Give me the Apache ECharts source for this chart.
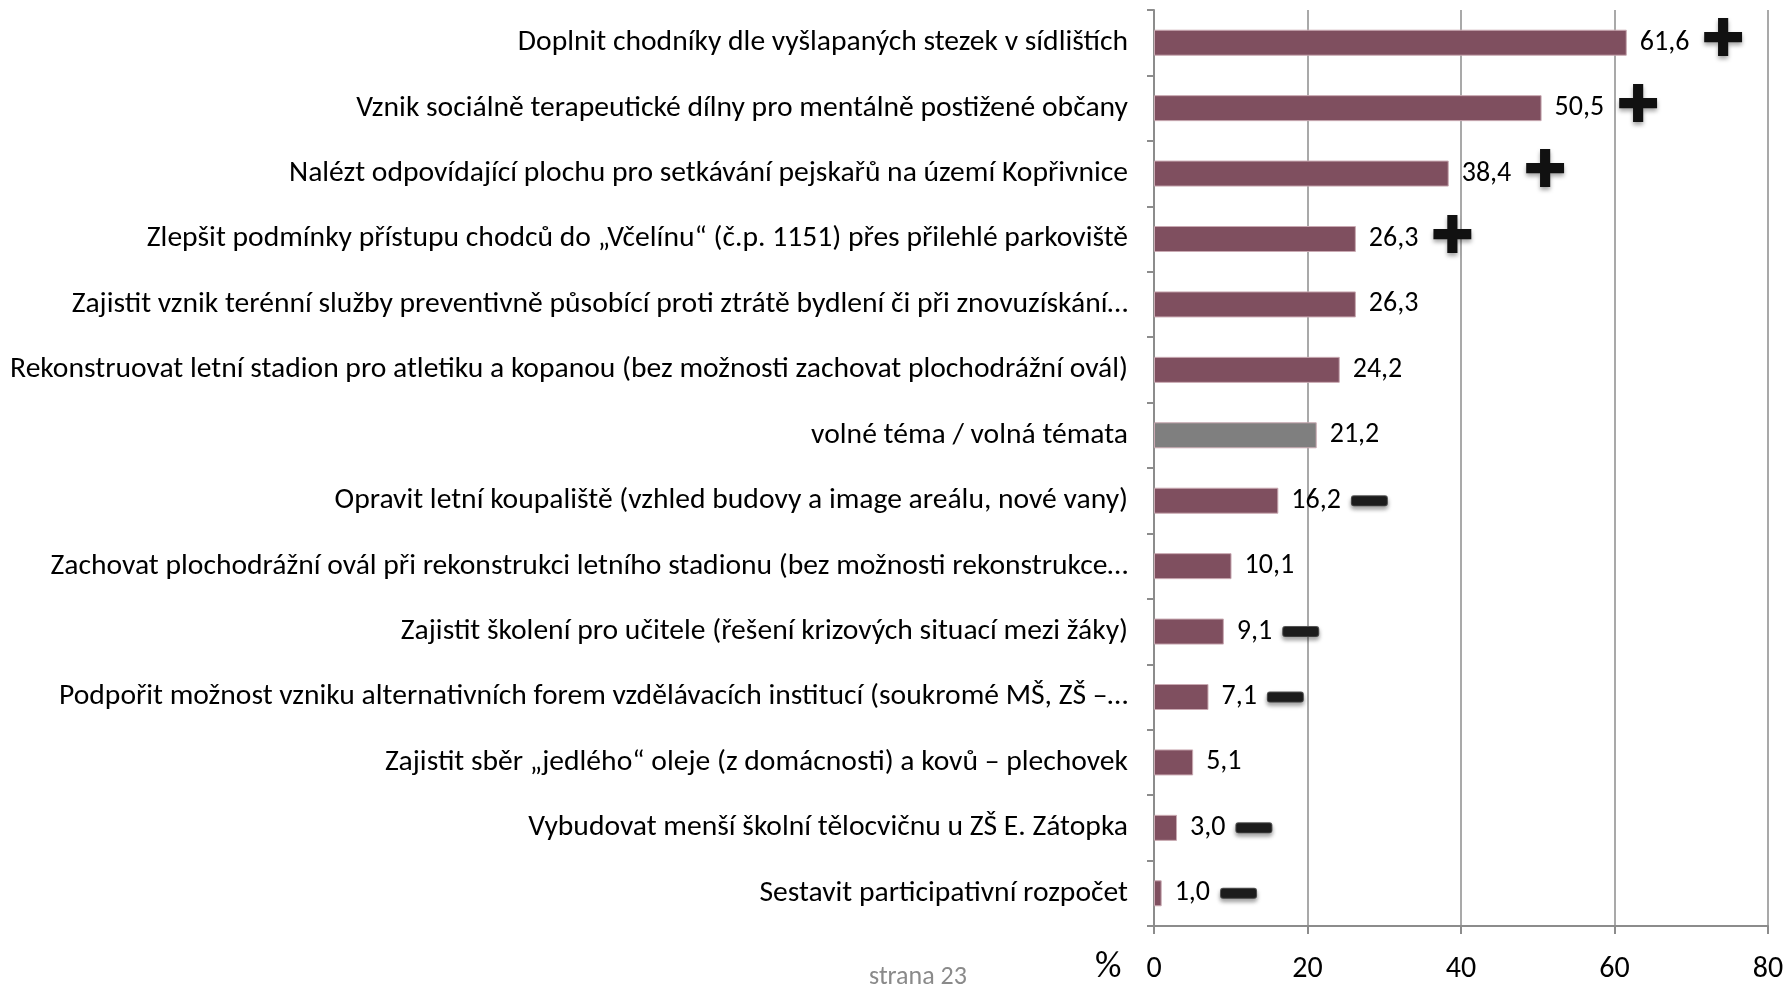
<!DOCTYPE html>
<html>
<head>
<meta charset="utf-8">
<script src="https://cdn.jsdelivr.net/npm/echarts@6/dist/echarts.min.js"></script>
<style>
  html, body { margin: 0; padding: 0; background: #fff; }
  #chart { width: 1789px; height: 987px; }
</style>
</head>
<body>
<div id="chart"></div>
<script>
// podíl respondentů v %, pořadí shora dolů
var categories = [
    'Doplnit chodníky dle vyšlapaných stezek v sídlištích',
    'Vznik sociálně terapeutické dílny pro mentálně postižené občany',
    'Nalézt odpovídající plochu pro setkávání pejskařů na území Kopřivnice',
    'Zlepšit podmínky přístupu chodců do „Včelínu“ (č.p. 1151) přes přilehlé parkoviště',
    'Zajistit vznik terénní služby preventivně působící proti ztrátě bydlení či při znovuzískání…',
    'Rekonstruovat letní stadion pro atletiku a kopanou (bez možnosti zachovat plochodrážní ovál)',
    'volné téma / volná témata',
    'Opravit letní koupaliště (vzhled budovy a image areálu, nové vany)',
    'Zachovat plochodrážní ovál při rekonstrukci letního stadionu (bez možnosti rekonstrukce…',
    'Zajistit školení pro učitele (řešení krizových situací mezi žáky)',
    'Podpořit možnost vzniku alternativních forem vzdělávacích institucí (soukromé MŠ, ZŠ –…',
    'Zajistit sběr „jedlého“ oleje (z domácnosti) a kovů – plechovek',
    'Vybudovat menší školní tělocvičnu u ZŠ E. Zátopka',
    'Sestavit participativní rozpočet'
];
var values = [61.6, 50.5, 38.4, 26.3, 26.3, 24.2, 21.2, 16.2, 10.1, 9.1, 7.1, 5.1, 3.0, 1.0];
// značka za hodnotou: plus / minus / nic
var marks = ['plus', 'plus', 'plus', 'plus', '', '', '', 'minus', '', 'minus', 'minus', '', 'minus', 'minus'];
var xTicks = [0, 20, 40, 60, 80];

var FONT = 'Carlito, Lato, "Liberation Sans", sans-serif';
var BAR = '#7f4f5f', BAR_FREE = '#7f7f7f';

var barData = [];
for (var i = 0; i < values.length; i++) {
    barData.push({
        value: values[i],
        itemStyle: { color: categories[i].indexOf('volné téma') === 0 ? BAR_FREE : BAR }
    });
}

var chart = echarts.init(document.getElementById('chart'));
chart.setOption({
    animation: false,
    backgroundColor: '#fff',
    grid: { left: 1154, right: 21, top: 10, bottom: 61, containLabel: false },
    xAxis: {
        type: 'value',
        min: xTicks[0],
        max: xTicks[xTicks.length - 1],
        interval: 20,
        axisLine: { show: true, lineStyle: { color: '#8c8c8c', width: 2 } },
        axisTick: { show: true, length: 8, lineStyle: { color: '#8c8c8c', width: 2 } },
        splitLine: { show: true, lineStyle: { color: '#8c8c8c', width: 1.5 } },
        axisLabel: { color: '#000', fontSize: 30, fontFamily: FONT, margin: 28 }
    },
    yAxis: {
        type: 'category',
        inverse: true,
        data: categories,
        axisLine: { show: true, onZero: false, lineStyle: { color: '#8c8c8c', width: 2 } },
        axisTick: { show: true, length: 7, lineStyle: { color: '#8c8c8c', width: 2 } },
        axisLabel: { color: '#000', fontSize: 29.6, fontFamily: FONT, margin: 26 }
    },
    series: [{
        type: 'bar',
        data: barData,
        barWidth: 26,
        itemStyle: { borderColor: '#c9a9b2', borderWidth: 1 },
        label: {
            show: true,
            position: 'right',
            distance: 13,
            formatter: function (p) {
                var s = '{v|' + p.value.toFixed(1).replace('.', ',') + '}';
                if (marks[p.dataIndex] === 'plus') s += '{p|✚}';
                else if (marks[p.dataIndex] === 'minus') s += '{g|}{m|}';
                return s;
            },
            rich: {
                v: { fontSize: 28, fontFamily: FONT, color: '#000' },
                g: { width: 11, height: 2 },
                p: {
                    fontSize: 52, fontFamily: 'DejaVu Sans', color: '#111',
                    padding: [0, 0, 0, 12],
                    textShadowColor: 'rgba(0,0,0,0.35)', textShadowBlur: 4, textShadowOffsetY: 3
                },
                m: {
                    width: 35, height: 9, backgroundColor: '#1c1c1c', borderRadius: 2,
                    borderColor: '#555', borderWidth: 1,
                    shadowColor: 'rgba(0,0,0,0.35)', shadowBlur: 4, shadowOffsetY: 3
                }
            }
        }
    }],
    graphic: [
        { type: 'text', left: 1095, top: 949,
          style: { text: '%', fontSize: 37, fontFamily: FONT, fill: '#000' } },
        { type: 'text', left: 869, top: 964,
          style: { text: 'strana 23', fontSize: 26, fontFamily: FONT, fill: '#8a8a8a' } }
    ]
});
</script>
</body>
</html>
